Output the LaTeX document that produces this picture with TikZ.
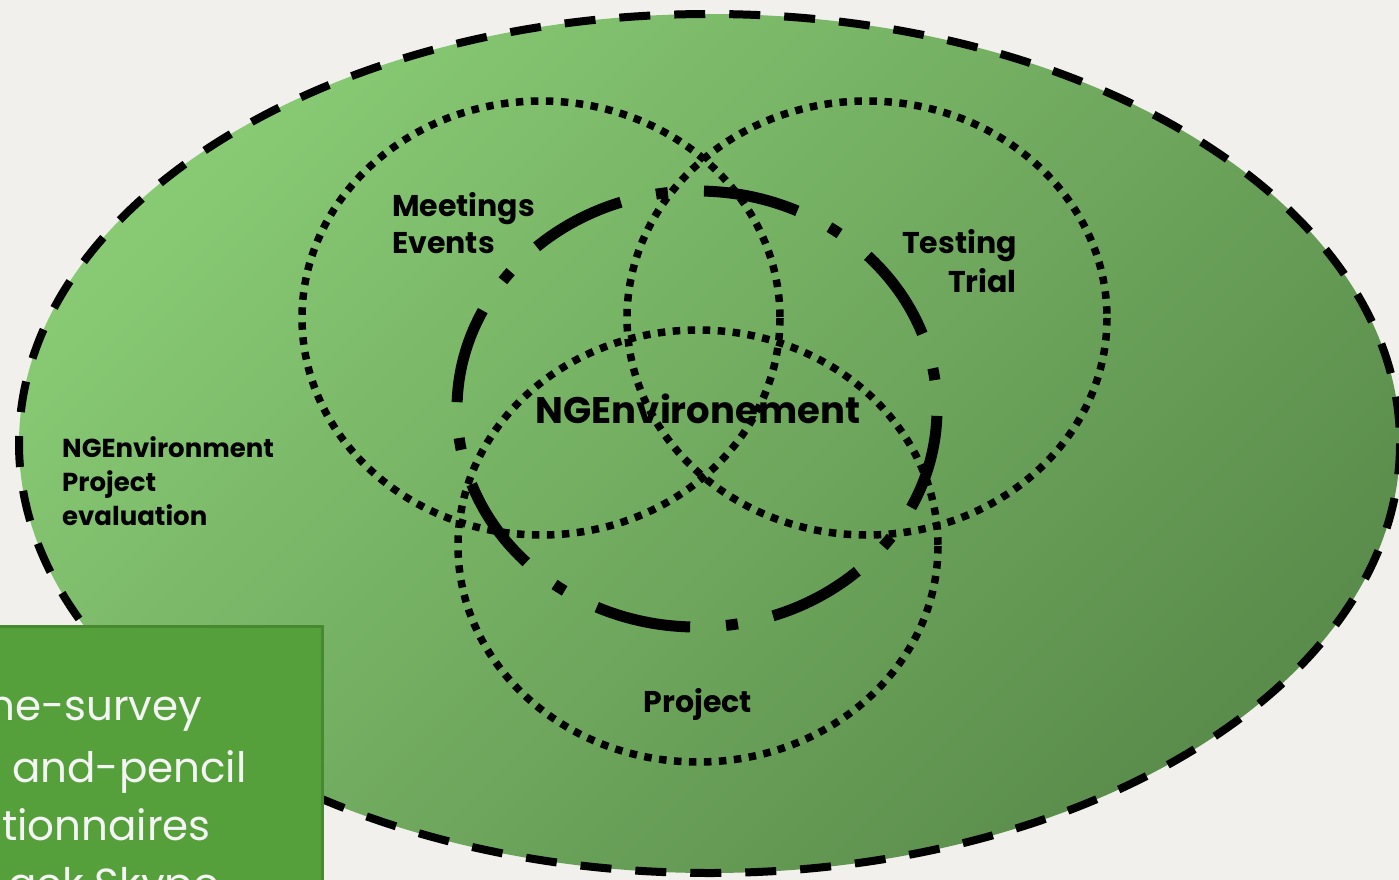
\documentclass[tikz,border=0pt]{standalone}
\usepackage{fontspec}
\setmainfont{Poppins}
\definecolor{bgcol}{HTML}{F2F0EC}
\definecolor{elLight}{HTML}{88CA74}
\definecolor{elDark}{HTML}{5A8C4B}
\definecolor{boxfill}{HTML}{55A03B}
\definecolor{boxborder}{HTML}{468A30}
\definecolor{boxtext}{HTML}{F4F4F4}
\begin{document}
\begin{tikzpicture}[x=1pt,y=-1pt,
  bigoval/.style={line width=8pt, dash pattern=on 31pt off 24pt},
  dotring/.style={line width=7.5pt, dash pattern=on 7.5pt off 7.5pt},
  dashdotring/.style={line width=11pt, dash pattern=on 96pt off 36pt on 12pt off 35.96pt, dash phase=173pt},
  lbl/.style={inner sep=0pt, font=\fontsize{30}{36}\selectfont\bfseries},
  sidelbl/.style={inner sep=0pt, font=\fontsize{26}{32}\selectfont\bfseries},
  bigtitle/.style={inner sep=0pt, font=\fontsize{37}{44}\selectfont\bfseries},
  boxlbl/.style={inner sep=0pt, anchor=base west, text=boxtext, font=\fontsize{42}{50}\selectfont}]
\fill[bgcol] (0,0) rectangle (1399,880);
\useasboundingbox (0,0) rectangle (1399,880);
% outer evaluation ellipse
\shade[top color=elLight, bottom color=elDark, shading angle=45] (709.5,443.5) ellipse [x radius=690.5, y radius=429.5];
\draw[bigoval] (709.5,443.5) ellipse [x radius=690.5, y radius=429.5];
% three dotted sets
\draw[dotring] (541,318) ellipse [x radius=239, y radius=217];
\draw[dotring] (867,318) ellipse [x radius=240, y radius=217];
\draw[dotring] (698,546) ellipse [x radius=240, y radius=216];
% dash-dot core
\draw[dashdotring] (697,191) arc[start angle=-90, end angle=270, x radius=240, y radius=218];
% labels
\node[lbl, anchor=base west] (meet) at (392,216) {Meetings};
\node[lbl, anchor=base west] (evts) at (392,253) {Events};
\node[lbl, anchor=base east] (test) at (1017,253) {Testing};
\node[lbl, anchor=base east] (trial) at (1017,292) {Trial};
\node[lbl, anchor=base] (proj) at (698,712) {Project};
\node[bigtitle, anchor=base] (core) at (698,423) {NGEnvironement};
\node[sidelbl, anchor=base west] (ev1) at (62,457) {NGEnvironment};
\node[sidelbl, anchor=base west] (ev2) at (62,491) {Project};
\node[sidelbl, anchor=base west] (ev3) at (62,525) {evaluation};
% green text box
\draw[boxborder, fill=boxfill, line width=3pt] (-5,626) rectangle (322,895);
\begin{scope}
\clip (0,627.5) rectangle (320.5,880);
\node[boxlbl] (b1) at (-12,720) {ne-survey};
\node[boxlbl] (b2) at (12,782) {and-pencil};
\node[boxlbl] (b3) at (2,840) {tionnaires};
\node[boxlbl] (b4) at (8,898) {ack Skype};
\end{scope}
\end{tikzpicture}
\end{document}
